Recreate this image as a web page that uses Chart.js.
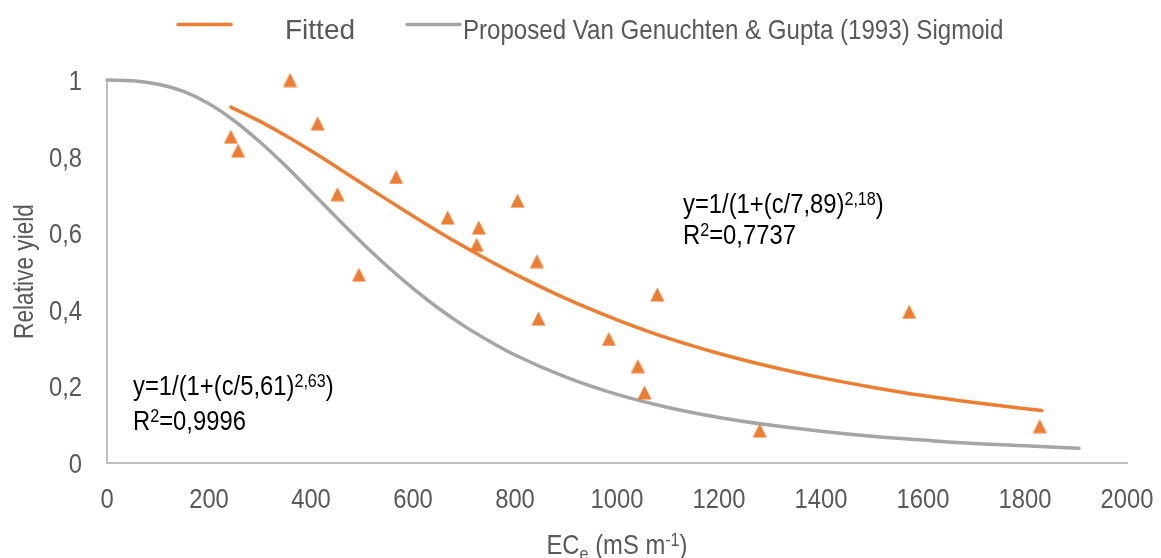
<!DOCTYPE html>
<html>
<head>
<meta charset="utf-8">
<title>Relative yield vs ECe</title>
<script src="https://cdn.jsdelivr.net/npm/chart.js@4.4.1/dist/chart.umd.min.js"></script>
<style>
  html, body { margin: 0; padding: 0; background: #fff; }
  #wrap { width: 1161px; height: 558px; }
</style>
</head>
<body>
<div id="wrap"><canvas id="chartCanvas" width="1161" height="558"></canvas></div>
<script>
const FONT = "'Liberation Sans', Arial, sans-serif";
const NARROW = 0.85; // horizontal squeeze to get a narrow face out of Liberation Sans
const ORANGE = '#ED7D31';
const GREY = '#A5A5A5';
const TEXT_GREY = '#595959';

// measured yield, ECe in mS/m
const obsEC = [359, 413, 243, 257, 567, 452, 805, 668, 729, 725, 843, 494, 846, 984, 1079, 1041, 1054, 1280, 1573, 1829];
const obsYield = [1.0, 0.887, 0.852, 0.816, 0.747, 0.702, 0.685, 0.641, 0.615, 0.570, 0.527, 0.492, 0.377, 0.324, 0.440, 0.253, 0.184, 0.085, 0.395, 0.096];

// fitted curve, sampled
const fitEC = [243, 300, 350, 400, 450, 500, 550, 600, 650, 700, 750, 800, 900, 1000, 1100, 1200, 1300, 1400, 1500, 1600, 1700, 1833];
const fitYield = [0.929, 0.892, 0.855, 0.815, 0.773, 0.730, 0.687, 0.645, 0.604, 0.565, 0.528, 0.493, 0.429, 0.374, 0.326, 0.286, 0.252, 0.223, 0.198, 0.176, 0.158, 0.137];

// Van Genuchten & Gupta sigmoid, sampled
const vgEC = [0, 50, 100, 150, 200, 250, 300, 350, 400, 450, 500, 550, 600, 650, 700, 750, 800, 900, 1000, 1100, 1200, 1300, 1400, 1500, 1600, 1700, 1800, 1906];
const vgYield = [1.0, 0.998, 0.989, 0.970, 0.938, 0.893, 0.838, 0.776, 0.709, 0.641, 0.575, 0.513, 0.456, 0.404, 0.358, 0.318, 0.282, 0.224, 0.179, 0.145, 0.119, 0.099, 0.083, 0.070, 0.060, 0.051, 0.045, 0.0385];

const xTicks = [0, 200, 400, 600, 800, 1000, 1200, 1400, 1600, 1800, 2000];
const yTicks = [0, 0.2, 0.4, 0.6, 0.8, 1];

const legendItems = [
  { text: 'Fitted', color: ORANGE, x1: 178, x2: 231, tx: 285, sx: 1.0 },
  { text: 'Proposed Van Genuchten & Gupta (1993) Sigmoid', color: GREY, x1: 407, x2: 460, tx: 463, sx: 0.86 }
];

const toPoints = (xs, ys) => xs.map((x, i) => ({ x: x, y: ys[i] }));

// isoceles triangle marker, centred on its box
function triangleMarker(size, color) {
  const c = document.createElement('canvas');
  c.width = size;
  c.height = size;
  const g = c.getContext('2d');
  g.fillStyle = color;
  g.beginPath();
  g.moveTo(size / 2, 0.5);
  g.lineTo(size - 0.5, size - 0.5);
  g.lineTo(0.5, size - 0.5);
  g.closePath();
  g.fill();
  return c;
}

// draws a run of text pieces, some raised or lowered, squeezed by sx
function richText(ctx, parts, x, y, size, color, align, sx) {
  ctx.save();
  ctx.fillStyle = color;
  ctx.textBaseline = 'alphabetic';
  ctx.textAlign = 'left';
  const small = Math.round(size * 0.68);
  let total = 0;
  parts.forEach(p => {
    ctx.font = (p.sup || p.sub ? small : size) + 'px ' + FONT;
    p.w = ctx.measureText(p.t).width * sx;
    total += p.w;
  });
  let cx = x;
  if (align === 'center') cx = x - total / 2;
  if (align === 'right') cx = x - total;
  parts.forEach(p => {
    ctx.font = (p.sup || p.sub ? small : size) + 'px ' + FONT;
    let dy = 0;
    if (p.sup) dy = -size * 0.3;
    if (p.sub) dy = size * 0.22;
    ctx.save();
    ctx.translate(cx, y + dy);
    ctx.scale(sx, 1);
    ctx.fillText(p.t, 0, 0);
    ctx.restore();
    cx += p.w;
  });
  ctx.restore();
}

const decorations = {
  id: 'decorations',
  afterDraw(chart) {
    const ctx = chart.ctx;
    const area = chart.chartArea;
    const xs = chart.scales.x;
    const ys = chart.scales.y;

    // tick labels
    xs.ticks.forEach(t => {
      richText(ctx, [{ t: String(t.value) }], xs.getPixelForValue(t.value), 508, 28, TEXT_GREY, 'center', NARROW);
    });
    ys.ticks.forEach(t => {
      const label = String(Math.round(t.value * 10) / 10).replace('.', ',');
      richText(ctx, [{ t: label }], 82, ys.getPixelForValue(t.value) + 10, 28, TEXT_GREY, 'right', NARROW);
    });

    // legend
    legendItems.forEach(item => {
      ctx.save();
      ctx.strokeStyle = item.color;
      ctx.lineWidth = 3.5;
      ctx.lineCap = 'round';
      ctx.beginPath();
      ctx.moveTo(item.x1, 24.5);
      ctx.lineTo(item.x2, 24.5);
      ctx.stroke();
      ctx.restore();
      richText(ctx, [{ t: item.text }], item.tx, 38.5, 28, TEXT_GREY, 'left', item.sx);
    });

    // equations
    richText(ctx, [{ t: 'y=1/(1+(c/5,61)' }, { t: '2,63', sup: true }, { t: ')' }], 133, 395, 28, '#000', 'left', NARROW);
    richText(ctx, [{ t: 'R' }, { t: '2', sup: true }, { t: '=0,9996' }], 133, 430, 28, '#000', 'left', NARROW);
    richText(ctx, [{ t: 'y=1/(1+(c/7,89)' }, { t: '2,18', sup: true }, { t: ')' }], 683, 213, 28, '#000', 'left', NARROW);
    richText(ctx, [{ t: 'R' }, { t: '2', sup: true }, { t: '=0,7737' }], 683, 244, 28, '#000', 'left', NARROW);

    // axis titles
    richText(ctx, [{ t: 'EC' }, { t: 'e', sub: true }, { t: ' (mS m' }, { t: '-1', sup: true }, { t: ')' }],
      (area.left + area.right) / 2, 554, 28, TEXT_GREY, 'center', NARROW);
    ctx.save();
    ctx.translate(33, (area.top + area.bottom) / 2);
    ctx.rotate(-Math.PI / 2);
    richText(ctx, [{ t: 'Relative yield' }], 0, 0, 28, TEXT_GREY, 'center', 0.81);
    ctx.restore();
  }
};

const chartCanvas = document.getElementById('chartCanvas');

new Chart(chartCanvas, {
  type: 'scatter',
  data: {
    datasets: [
      {
        label: 'Observed',
        data: toPoints(obsEC, obsYield),
        pointStyle: triangleMarker(15, ORANGE),
        pointRadius: 8,
        backgroundColor: ORANGE,
        borderColor: ORANGE,
        showLine: false,
        clip: false
      },
      {
        label: 'Fitted',
        data: toPoints(fitEC, fitYield),
        showLine: true,
        borderColor: ORANGE,
        borderWidth: 3.5,
        borderCapStyle: 'round',
        cubicInterpolationMode: 'monotone',
        pointRadius: 0,
        clip: false
      },
      {
        label: 'Proposed Van Genuchten & Gupta (1993) Sigmoid',
        data: toPoints(vgEC, vgYield),
        showLine: true,
        borderColor: GREY,
        borderWidth: 3.5,
        borderCapStyle: 'round',
        cubicInterpolationMode: 'monotone',
        pointRadius: 0,
        clip: false
      }
    ]
  },
  options: {
    responsive: false,
    animation: false,
    layout: { padding: { top: 80, right: 34, left: 0, bottom: 0 } },
    plugins: {
      legend: { display: false },
      tooltip: { enabled: false }
    },
    scales: {
      x: {
        type: 'linear',
        min: 0,
        max: 2000,
        afterBuildTicks: scale => { scale.ticks = xTicks.map(v => ({ value: v })); },
        afterFit: scale => { scale.height = 95; },
        grid: { display: false, drawTicks: false },
        border: { display: true, color: '#BFBFBF', width: 2 },
        ticks: { display: false }
      },
      y: {
        min: 0,
        max: 1,
        afterBuildTicks: scale => { scale.ticks = yTicks.map(v => ({ value: v })); },
        afterFit: scale => { scale.width = 107; },
        grid: { display: false, drawTicks: false },
        border: { display: true, color: '#BFBFBF', width: 2 },
        ticks: { display: false }
      }
    }
  },
  plugins: [decorations]
});
</script>
</body>
</html>
